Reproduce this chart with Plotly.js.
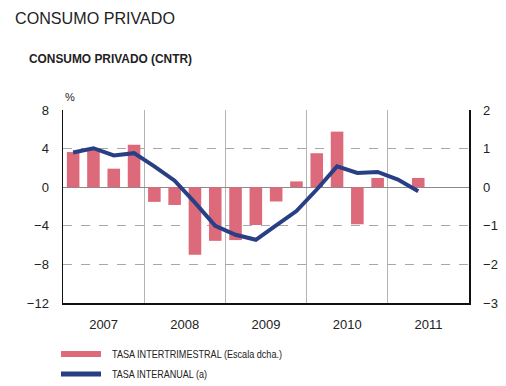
<!DOCTYPE html>
<html>
<head>
<meta charset="utf-8">
<script src="https://cdn.plot.ly/plotly-3.0.1.min.js"></script>
<style>
html,body{margin:0;padding:0;background:#fff;}
#chart{width:506px;height:386px;}
</style>
</head>
<body>
<div id="chart"></div>
<script>
// Quarters 2007-I .. 2011-II
var quarters = ['2007-I','2007-II','2007-III','2007-IV','2008-I','2008-II','2008-III','2008-IV',
                '2009-I','2009-II','2009-III','2009-IV','2010-I','2010-II','2010-III','2010-IV',
                '2011-I','2011-II'];
var years = ['2007','2008','2009','2010','2011'];
// Tasa intertrimestral (escala dcha.)
var tasaIntertrimestral = [0.91, 1.01, 0.48, 1.10, -0.38, -0.46, -1.75, -1.39, -1.37, -0.98,
                           -0.37, 0.15, 0.88, 1.44, -0.96, 0.24, 0.0, 0.24];
// Tasa interanual (escala izda.)
var tasaInteranual = [3.6, 4.04, 3.29, 3.53, 2.16, 0.68, -1.6, -4.0, -4.93, -5.45,
                      -3.95, -2.47, -0.24, 2.16, 1.47, 1.58, 0.79, -0.41];
var leftTicks = [-12, -8, -4, 0, 4, 8];
var rightTicks = [-3, -2, -1, 0, 1, 2];

var xIdx = quarters.map(function(q, i){ return i; });
var yearCenters = years.map(function(y, i){ return i * 4 + 1.5; });

var FONT = 'Liberation Sans, Arial, sans-serif';
var PINK = '#dc6a7b';
var NAVY = '#283f85';

var traces = [
  {type:'bar', x:xIdx, y:tasaIntertrimestral, name:'TASA INTERTRIMESTRAL (Escala dcha.)',
   marker:{color:PINK}, xaxis:'x', yaxis:'y', showlegend:false, hoverinfo:'skip'},
  {type:'scatter', mode:'lines', x:xIdx, y:tasaInteranual, name:'TASA INTERANUAL (a)',
   line:{color:NAVY, width:4}, xaxis:'x', yaxis:'y2', showlegend:false, hoverinfo:'skip'}
];

// Plot area: x 63..469, y 110..303
var L = 63, R = 469, T = 110, B = 303, W = 506, H = 386;
function px(x){ return (x - L) / (R - L); }
function py(y){ return (B - y) / (B - T); }

var layout = {
  width: W, height: H,
  margin: {l: L, r: W - R, t: T, b: H - B, pad: 0},
  paper_bgcolor: '#fff', plot_bgcolor: '#fff',
  bargap: 0.38,
  showlegend: false,
  font: {family: FONT, size: 13, color: '#222'},
  xaxis: {
    range: [-0.5, quarters.length + 1.5],
    tickmode: 'array', tickvals: yearCenters, ticktext: years,
    ticks: 'outside', ticklen: 9, tickcolor: 'rgba(0,0,0,0)',
    showgrid: false, zeroline: false,
    showline: true, linecolor: '#111', linewidth: 1.5, mirror: false,
    minor: {tick0: -0.5, dtick: 4, showgrid: true, gridcolor: '#b4b4b4', gridwidth: 1, ticks: ''},
    tickfont: {family: FONT, size: 13, color: '#222'},
    fixedrange: true
  },
  yaxis: {
    side: 'right', range: [-3, 2], tickmode: 'array', tickvals: rightTicks,
    ticks: 'outside', ticklen: 10, tickcolor: 'rgba(0,0,0,0)',
    showgrid: true, gridcolor: '#a8a8a8', griddash: 'dash', gridwidth: 1,
    zeroline: true, zerolinecolor: '#8a8a8a', zerolinewidth: 1,
    showline: true, linecolor: '#111', linewidth: 1.5,
    tickfont: {family: FONT, size: 13, color: '#222'},
    fixedrange: true
  },
  yaxis2: {
    overlaying: 'y', side: 'left', range: [-12, 8], tickmode: 'array', tickvals: leftTicks,
    ticks: 'outside', ticklen: 10, tickcolor: 'rgba(0,0,0,0)',
    showgrid: false, zeroline: false,
    showline: true, linecolor: '#111', linewidth: 1.5,
    tickfont: {family: FONT, size: 13, color: '#222'},
    fixedrange: true
  },
  annotations: [
    {text: 'CONSUMO PRIVADO', xref: 'paper', yref: 'paper', x: px(13), y: py(18),
     xanchor: 'left', yanchor: 'middle', showarrow: false,
     font: {family: FONT, size: 17, color: '#222'}},
    {text: '<b>CONSUMO PRIVADO (CNTR)</b>', xref: 'paper', yref: 'paper', x: px(27), y: py(59),
     xanchor: 'left', yanchor: 'middle', showarrow: false,
     font: {family: FONT, size: 12.5, color: '#222'}},
    {text: '%', xref: 'paper', yref: 'paper', x: px(63), y: py(97),
     xanchor: 'left', yanchor: 'middle', showarrow: false,
     font: {family: FONT, size: 11, color: '#222'}},
    {text: 'TASA INTERTRIMESTRAL (Escala dcha.)', xref: 'paper', yref: 'paper', x: px(110), y: py(354),
     xanchor: 'left', yanchor: 'middle', showarrow: false,
     font: {family: FONT, size: 11, color: '#222'}},
    {text: 'TASA INTERANUAL (a)', xref: 'paper', yref: 'paper', x: px(110), y: py(374),
     xanchor: 'left', yanchor: 'middle', showarrow: false,
     font: {family: FONT, size: 11, color: '#222'}}
  ],
  shapes: [
    {type: 'rect', xref: 'paper', yref: 'paper', x0: px(61), x1: px(101), y0: py(357), y1: py(351),
     fillcolor: PINK, line: {width: 0}},
    {type: 'rect', xref: 'paper', yref: 'paper', x0: px(61), x1: px(101), y0: py(376.5), y1: py(371.5),
     fillcolor: NAVY, line: {width: 0}}
  ]
};

// target widths (px) to mimic the condensed typeface of the original
var condense = {
  'CONSUMO PRIVADO': 160,
  'CONSUMO PRIVADO (CNTR)': 163,
  'TASA INTERTRIMESTRAL (Escala dcha.)': 170,
  'TASA INTERANUAL (a)': 95
};

Plotly.newPlot('chart', traces, layout, {staticPlot: true, displayModeBar: false}).then(function(gd){
  var texts = gd.querySelectorAll('.annotation-text');
  texts.forEach(function(t){
    var key = t.textContent;
    if (!(key in condense)) return;
    var bb = t.getBBox();
    t.setAttribute('text-anchor', 'start');
    t.style.textAnchor = 'start';
    t.setAttribute('x', bb.x);
    t.setAttribute('textLength', condense[key]);
    t.setAttribute('lengthAdjust', 'spacingAndGlyphs');
  });
});
</script>
</body>
</html>
